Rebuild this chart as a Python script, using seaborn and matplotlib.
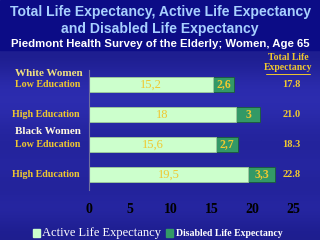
import numpy as np
import pandas as pd
import seaborn as sns
import matplotlib.pyplot as plt

# data
grupos = ["White Low", "White High", "Black Low", "Black High"]
etiquetas = ["Low Education", "High Education", "Low Education", "High Education"]
activa = [15.2, 18, 15.6, 19.5]
discapacitada = [2.6, 3, 2.7, 3.3]
total_txt = ["17.8", "21.0", "18.3", "22.8"]
activa_txt = ["15,2", "18", "15,6", "19,5"]
disc_txt = ["2,6", "3", "2,7", "3,3"]
xticks = [0, 5, 10, 15, 20, 25]

df = pd.DataFrame({"grupo": grupos, "activa": activa, "disc": discapacitada})
df["total"] = df["activa"] + df["disc"]

sns.set_style("white")
plt.rcParams["font.family"] = ["Liberation Sans", "DejaVu Sans"]

oro = "#f0c830"
verde_claro = "#ccffcc"
verde = "#339966"

fig = plt.figure(figsize=(3.2, 2.4), dpi=100)

# fondo
bg = fig.add_axes([0, 0, 1, 1])
grad = np.array([0.55, 0.75, 0.8, 0.7, 0.62, 0.7, 0.6, 0.72, 0.55])[:, None]
bg.imshow(grad, aspect="auto", cmap=sns.blend_palette(["#14147a", "#3434c0"], as_cmap=True),
          vmin=0.4, vmax=0.9, extent=[0, 1, 0, 1 - 50 / 240], interpolation="bicubic")
bg.axhspan(1 - 50 / 240, 1, color="#0c0c86")
bg.set_xlim(0, 1)
bg.set_ylim(0, 1)
bg.axis("off")

ax = fig.add_axes([89 / 320, 1 - 189.5 / 240, 204 / 320, 120 / 240])
ax.patch.set_alpha(0)
sns.barplot(data=df, x="total", y="grupo", color=verde, width=0.5, saturation=1,
            edgecolor="#1a5a3a", linewidth=0.6, ax=ax)
sns.barplot(data=df, x="activa", y="grupo", color=verde_claro, width=0.5, saturation=1,
            edgecolor="#a0c8a0", linewidth=0.6, ax=ax)
ax.set_xlim(0, 25)
ax.set_ylim(3.5, -0.5)
ax.set_xticks(xticks)
ax.set_xticklabels([str(t) for t in xticks], fontfamily="Liberation Serif",
                   fontweight="bold", fontsize=10, color="black")
ax.tick_params(axis="x", length=0, pad=10)
ax.set_yticks([])
ax.set_xlabel("")
ax.set_ylabel("")
for s in ["top", "right", "bottom"]:
    ax.spines[s].set_visible(False)
ax.spines["left"].set_color("#7070a0")
ax.spines["left"].set_linewidth(0.8)

for i in range(len(grupos)):
    ax.text(activa[i] / 2, i, activa_txt[i], ha="center", va="center", color=oro,
            fontfamily="Liberation Serif", fontsize=9)
    ax.text(activa[i] + discapacitada[i] / 2, i, disc_txt[i], ha="center", va="center",
            color=oro, fontfamily="Liberation Serif", fontweight="bold", fontsize=8.5)
    ax.text(24.8, i, total_txt[i], ha="center", va="center", color=oro,
            fontfamily="Liberation Serif", fontweight="bold", fontsize=7.5)
    ax.text(-1.1, i, etiquetas[i], ha="right", va="center", color=oro,
            fontfamily="Liberation Serif", fontweight="bold", fontsize=7.2)

# encabezados de grupo
fig.text(15 / 320, 1 - 73 / 240, "White Women", color="#f0e080", ha="left", va="center",
         fontfamily="Liberation Serif", fontweight="bold", fontsize=8)
fig.text(15 / 320, 1 - 132 / 240, "Black Women", color="#fff8e0", ha="left", va="center",
         fontfamily="Liberation Serif", fontweight="bold", fontsize=8)
fig.text(288 / 320, 1 - 57 / 240, "Total Life", color=oro, ha="center", va="center",
         fontfamily="Liberation Serif", fontweight="bold", fontsize=7)
fig.text(288 / 320, 1 - 68 / 240, "Expectancy", color=oro, ha="center", va="center",
         fontfamily="Liberation Serif", fontweight="bold", fontsize=7)
bg.plot([266 / 320, 310 / 320], [1 - 73.5 / 240] * 2, color=oro, lw=0.7)

# titulos
fig.text(0.5, 1 - 12 / 240, "Total Life Expectancy, Active Life Expectancy", color="#a8d0ff",
         ha="center", va="center", fontweight="bold", fontsize=10.1)
fig.text(0.5, 1 - 29 / 240, "and Disabled Life Expectancy", color="#a8d0ff",
         ha="center", va="center", fontweight="bold", fontsize=10.1)
fig.text(0.5, 1 - 44 / 240, "Piedmont Health Survey of the Elderly; Women, Age 65", color="white",
         ha="center", va="center", fontweight="bold", fontsize=8.2)

# leyenda
fig.patches.append(plt.Rectangle((33 / 320, 1 - 237 / 240), 7 / 320, 8 / 240,
                   transform=fig.transFigure, color=verde_claro))
fig.patches.append(plt.Rectangle((166 / 320, 1 - 237 / 240), 7 / 320, 8 / 240,
                   transform=fig.transFigure, color=verde))
fig.text(42 / 320, 1 - 233 / 240, "Active Life Expectancy", color="white", ha="left", va="center",
         fontfamily="Liberation Serif", fontsize=9)
fig.text(176 / 320, 1 - 233 / 240, "Disabled Life Expectancy", color="white", ha="left", va="center",
         fontfamily="Liberation Serif", fontweight="bold", fontsize=7)

fig.savefig("out.png", dpi=100)
